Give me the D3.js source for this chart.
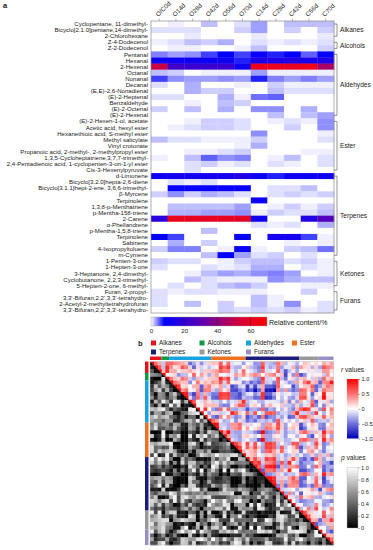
<!DOCTYPE html>
<html>
<head>
<meta charset="utf-8">
<script src="https://cdn.jsdelivr.net/npm/d3@7"></script>
<style>
  body { margin: 0; background: #fff; }
  svg text { font-family: "Liberation Sans", Arial, sans-serif; fill: #222; }
</style>
</head>
<body>
<div id="chart"></div>
<script>
const rowLabels = [
  "Cyclopentane, 11-dimethyl-", "Bicyclo[2.1.0]pentane,14-dimethyl-", "2-Chlorohexane",
  "Z-4-Dodecenol", "Z-2-Dodecenol",
  "Pentanal", "Hexanal", "2-Hexenal", "Octanal", "Nonanal", "Decanal", "(E,E)-2,6-Nonadienal",
  "(E)-2-Heptenal", "Benzaldehyde", "(E)-2-Octenal", "(E)-2-Hexenal",
  "(E)-2-Hexen-1-ol, acetate", "Acetic acid, hexyl ester", "Hexanethioic acid, S-methyl ester",
  "Methyl salicylate", "Vinyl crotonate", "Propanoic acid, 2-methyl-, 2-methylpropyl ester",
  "1,3,5-Cycloheptatriene,3,7,7-trimethyl-", "2,4-Pentadienoic acid, 1-cyclopenten-3-on-1-yl ester",
  "Cis-3-Hexenylpyruvate",
  "d-Limonene", "Bicyclo[3.2.0]hepta-2,6-diene", "Bicyclo[3.1.1]hept-2-ene, 3,6,6-trimethyl-",
  "β-Myrcene", "Terpinolene", "1,3,8-p-Menthatriene", "p-Mentha-158-triene", "2-Carene",
  "α-Phellandrene", "p-Mentha-1,5,8-triene", "Terpinolene", "Sabinene", "4-Isopropyltoluene", "m-Cymene",
  "1-Penten-3-one", "1-Hepten-3-one", "3-Heptanone, 2,4-dimethyl-", "Cyclobutanone, 2,2,3-trimethyl-",
  "5-Hepten-2-one, 6-methyl-",
  "Furan, 2-propyl-", "3,3'-Bifuran,2,2',3,3'-tetrahydro-", "2-Acetyl-2-methyltetrahydrofuran",
  "3,3'-Bifuran,2,2',3,3'-tetrahydro-"
];
const colLabels = ["O/C0d", "O14d", "O28d", "O42d", "O56d", "O70d", "C14d", "C28d", "C42d", "C56d", "C70d"];
const groupNames = ["Alkanes", "Alcohols", "Aldehydes", "Ester", "Terpenes", "Ketones", "Furans"];
const groupSizes = [3, 2, 11, 9, 14, 5, 4];
const groupColors = ["#e8141c", "#0d9a44", "#17a3e0", "#f07022", "#1c1c7c", "#999999", "#9a8ec6"];

// relative content (%) per compound, one row per compound, columns follow colLabels
const content = [
  [0, 0.5, 0, 2, 0, 1, 3, 0, 2, 2, 2],
  [1, 1, 1, 0, 0, 1.5, 3, 0, 1.5, 0, 1.5],
  [0, 0, 0.7, 0, 0, 0, 0.7, 0, 0, 0, 0.7],
  [0.5, 1, 2, 1.5, 2.5, 0, 1, 0.5, 1, 0.5, 1],
  [0, 0.5, 0.5, 0, 0, 0.5, 2, 0, 0, 0, 1.5],
  [4, 3, 3.5, 6, 8, 6, 10, 7, 8, 5, 8],
  [11, 12, 12, 12, 12, 7, 15, 15, 16, 14, 15],
  [52, 24, 22, 22, 22, 12, 62, 62, 60, 63, 45],
  [2, 1.5, 0, 0.5, 0.5, 0.5, 3, 0.5, 0.5, 0.5, 0.5],
  [6, 3.5, 3, 3, 3.5, 3, 7, 4, 3, 4, 3],
  [1, 0, 2.5, 0, 0, 0.5, 0, 1.5, 0.5, 0.5, 0.5],
  [0, 0, 2.5, 1.5, 1.5, 0, 0, 2, 1, 1, 1],
  [1, 1, 0, 0, 2.5, 0.5, 4.5, 5, 0, 0, 0],
  [0, 0, 0.5, 0, 2, 1.5, 0, 0, 0, 0, 0],
  [1.5, 0, 2, 0, 2.5, 0, 3.5, 3.5, 0, 2.5, 0],
  [0, 0, 0, 0, 0, 0, 0, 2, 0, 2, 3],
  [0, 0, 0.5, 1.5, 1.5, 1, 0, 0.5, 1, 0.5, 3.5],
  [0, 0.5, 1, 1.5, 1.5, 1, 0, 0, 1.5, 0, 3.5],
  [0, 0, 0, 0, 0, 0, 3.5, 0, 0, 0, 0.5],
  [2, 1, 1, 0.5, 0.5, 0.5, 1.5, 0, 0, 0, 1],
  [0, 0, 0, 0, 0, 0.5, 2.5, 0, 0, 0, 0],
  [0, 0, 0.5, 0.5, 1, 1.5, 0, 0, 0, 0.5, 0.5],
  [0.5, 0, 2, 5, 3.5, 4, 0, 0.5, 2, 0, 1],
  [0, 0, 1, 1.5, 0.5, 1, 0, 1, 0.5, 0, 1],
  [0, 0, 1, 0, 0, 0, 0, 0, 0, 0, 0],
  [12, 13, 13, 13, 13, 16, 11, 7, 12, 11, 12],
  [0, 1, 0.5, 1, 0, 0, 0, 0, 0, 0, 0],
  [0, 9, 9, 9, 10, 10, 0, 1, 1, 2, 0],
  [1.5, 3.5, 1.5, 2.5, 2, 1, 0, 1, 1.5, 1, 1.5],
  [0, 0, 0, 0, 0, 0, 11, 0, 0, 0, 0],
  [0, 2, 2, 2, 2, 3, 0, 0.5, 1.5, 0.5, 1.5],
  [0, 2.5, 2.5, 3, 3, 3.5, 0.5, 1.5, 1, 1, 2],
  [18, 62, 61, 60, 60, 59, 12, 0, 0, 16, 28],
  [0, 0, 0, 0, 0, 0, 1, 0.5, 1, 0, 2.5],
  [0, 0, 0, 2, 0, 0, 0, 0, 0, 0, 0],
  [9, 6, 0, 0, 0, 10, 0, 13, 13, 6, 0.5],
  [0, 2.5, 0, 1.5, 0, 0, 0, 0, 0.5, 0, 0.5],
  [1.5, 4, 4, 0, 0.5, 10, 0.5, 0, 1.5, 2, 4.5],
  [0, 0, 0, 2, 8, 3, 1, 1.5, 0, 1, 0],
  [1.5, 1, 1, 0, 0.5, 1.5, 2, 2, 1, 1.5, 0.5],
  [1, 0, 0, 1, 0.5, 1, 2.5, 2.5, 0, 1, 0.5],
  [0, 0, 0.5, 2, 3, 2.5, 3.5, 4, 3, 0, 0.5],
  [0, 0, 2, 1, 0.5, 0.5, 0.5, 3.5, 2.5, 2, 2],
  [0, 1, 0, 1, 2, 2.5, 1.5, 0, 0, 0.5, 0.5],
  [1, 0.5, 1, 1, 0.5, 0.5, 0.5, 0, 0, 1.5, 0],
  [1, 0, 0, 0, 0, 0, 2, 0.5, 0, 0, 0],
  [1, 0, 2, 0, 1.5, 0, 2, 0.5, 3.5, 0, 1],
  [0, 0, 0, 0, 1.5, 1, 1.5, 1, 1.5, 0.5, 1]
];

const contentTicks = [0, 20, 40, 60];
const rTicks = [1, 0.5, 0, -0.5, -1];
const pTicks = [0, 0.2, 0.4, 0.6, 0.8, 1];

const width = 373, height = 550;
const svg = d3.select("#chart").append("svg")
  .attr("width", width)
  .attr("height", height);
const defs = svg.append("defs");

// ---------- panel a ----------
const x = d3.scaleBand().domain(colLabels).range([151, 334]);
const y = d3.scaleBand().domain(d3.range(rowLabels.length)).range([21, 313]);
const heatColor = d3.scaleLinear()
  .domain([0, 8, 30, 55, 70])
  .range(["#ffffff", "#0000ff", "#5a00b4", "#dc0032", "#ff0000"])
  .clamp(true);

svg.append("text")
  .attr("x", 3).attr("y", 8)
  .style("font-size", "7.5px").style("font-weight", "bold")
  .text("a");

const cells = [];
content.forEach((row, i) => row.forEach((v, j) => cells.push({ i, j, v })));

svg.append("g").selectAll("rect")
  .data(cells)
  .join("rect")
  .attr("x", d => x(colLabels[d.j]))
  .attr("y", d => y(d.i))
  .attr("width", x.bandwidth() + 0.3)
  .attr("height", y.bandwidth() + 0.3)
  .attr("fill", d => heatColor(d.v));

svg.append("rect")
  .attr("x", 151).attr("y", 21)
  .attr("width", 183).attr("height", 292)
  .attr("fill", "none")
  .attr("stroke", "#8c8c8c")
  .attr("stroke-width", 0.7);

// column labels and top ticks
svg.append("g").selectAll("line")
  .data(colLabels)
  .join("line")
  .attr("x1", d => x(d) + x.bandwidth() / 2)
  .attr("x2", d => x(d) + x.bandwidth() / 2)
  .attr("y1", 21).attr("y2", 18.5)
  .attr("stroke", "#888").attr("stroke-width", 0.6);

svg.append("g").selectAll("text")
  .data(colLabels)
  .join("text")
  .attr("transform", d => `translate(${x(d) + x.bandwidth() / 2 - 1},17) rotate(-45)`)
  .style("font-size", "6.3px")
  .text(d => d);

svg.append("g").selectAll("text")
  .data(rowLabels)
  .join("text")
  .attr("x", 148)
  .attr("y", (d, i) => y(i) + y.bandwidth() / 2 + 2.1)
  .attr("text-anchor", "end")
  .style("font-size", "6.1px")
  .text(d => d);

// group brackets
let start = 0;
const groups = groupNames.map((name, g) => {
  const o = { name, start, end: start + groupSizes[g] - 1, color: groupColors[g] };
  start += groupSizes[g];
  return o;
});

groups.forEach(g => {
  const y0 = y(g.start) + 3;
  const y1 = y(g.end) + y.bandwidth() - 3;
  svg.append("path")
    .attr("d", `M334,${y0}H337V${y1}H334`)
    .attr("fill", "none")
    .attr("stroke", "#666")
    .attr("stroke-width", 0.7);
  svg.append("text")
    .attr("x", 340)
    .attr("y", (y0 + y1) / 2 + 2.3)
    .style("font-size", "6.6px")
    .text(g.name);
});

// colour bar a
const cb = d3.scaleLinear().domain([0, 70]).range([151, 267]);
const gradA = defs.append("linearGradient").attr("id", "gradA");
heatColor.domain().forEach(v => {
  gradA.append("stop")
    .attr("offset", (v / 70 * 100) + "%")
    .attr("stop-color", heatColor(v));
});
svg.append("rect")
  .attr("x", 151).attr("y", 317)
  .attr("width", 116).attr("height", 9)
  .attr("fill", "url(#gradA)")
  .attr("stroke", "#999").attr("stroke-width", 0.4);

svg.append("g").selectAll("line")
  .data(contentTicks.slice(1))
  .join("line")
  .attr("x1", d => cb(d)).attr("x2", d => cb(d))
  .attr("y1", 317).attr("y2", 326)
  .attr("stroke", "#222").attr("stroke-width", 0.6).attr("opacity", 0.7);

const axA = svg.append("g")
  .attr("transform", "translate(0,327)")
  .call(d3.axisBottom(cb).tickValues(contentTicks).tickSize(0).tickPadding(2));
axA.select(".domain").remove();
axA.selectAll("text").style("font-size", "6.2px").style("font-family", "Liberation Sans, Arial, sans-serif");

svg.append("text")
  .attr("x", 269).attr("y", 324.5)
  .style("font-size", "7px")
  .text("Relative content/%");

// ---------- panel b ----------
svg.append("text")
  .attr("x", 138).attr("y", 346)
  .style("font-size", "7.5px").style("font-weight", "bold")
  .text("b");

const legendX = [151, 199.5, 246, 292];
groups.forEach((g, k) => {
  const lx = legendX[k % 4];
  const ly = k < 4 ? 340.5 : 349.5;
  svg.append("rect")
    .attr("x", lx).attr("y", ly)
    .attr("width", 5).attr("height", 5)
    .attr("fill", g.color);
  svg.append("text")
    .attr("x", lx + 8).attr("y", ly + 4.7)
    .style("font-size", "6.4px")
    .text(g.name);
});

// correlations between compounds across samples
const n = colLabels.length;
function pearson(a, b) {
  const ma = d3.mean(a), mb = d3.mean(b);
  let sab = 0, saa = 0, sbb = 0;
  for (let k = 0; k < a.length; k++) {
    sab += (a[k] - ma) * (b[k] - mb);
    saa += (a[k] - ma) ** 2;
    sbb += (b[k] - mb) ** 2;
  }
  if (saa === 0 || sbb === 0) return 0;
  return sab / Math.sqrt(saa * sbb);
}
// two-sided p for Student t with odd degrees of freedom
function pValue(r, df) {
  if (Math.abs(r) >= 1) return 0;
  const t = Math.abs(r) * Math.sqrt(df / (1 - r * r));
  const th = Math.atan(t / Math.sqrt(df));
  const c = Math.cos(th), s = Math.sin(th);
  let sum = 0, term = c;
  if (df > 1) {
    sum = c;
    for (let k = 3; k <= df - 2; k += 2) {
      term *= (k - 1) / k * c * c;
      sum += term;
    }
  }
  return Math.max(0, 1 - 2 / Math.PI * (th + s * sum));
}

const N = rowLabels.length;
const mx = d3.scaleBand().domain(d3.range(N)).range([150, 333.5]);
const my = d3.scaleBand().domain(d3.range(N)).range([361.5, 545]);
const rColor = d3.scaleLinear().domain([-1, -0.5, 0, 0.5, 1])
  .range(["#0000b4", "#7070dc", "#ffffff", "#ff7070", "#ff0000"]);
const pColor = d3.scaleLinear().domain([0, 1]).range(["#000000", "#ffffff"]);

const pairs = [];
for (let i = 0; i < N; i++) {
  for (let j = 0; j < N; j++) {
    if (i === j) continue;
    const r = pearson(content[i], content[j]);
    pairs.push({ i, j, fill: j > i ? rColor(r) : pColor(pValue(r, n - 2)) });
  }
}

svg.append("g").selectAll("rect")
  .data(pairs)
  .join("rect")
  .attr("x", d => mx(d.j))
  .attr("y", d => my(d.i))
  .attr("width", mx.bandwidth() + 0.3)
  .attr("height", my.bandwidth() + 0.3)
  .attr("fill", d => d.fill);

const diag = svg.append("g");
d3.range(N).forEach(i => {
  const x0 = mx(i), x1 = mx(i) + mx.bandwidth() + 0.3;
  const y0 = my(i), y1 = my(i) + my.bandwidth() + 0.3;
  diag.append("path").attr("d", `M${x0},${y0}L${x1},${y0}L${x1},${y1}Z`).attr("fill", rColor(1));
  diag.append("path").attr("d", `M${x0},${y0}L${x0},${y1}L${x1},${y1}Z`).attr("fill", "#000");
});

svg.append("rect")
  .attr("x", 150).attr("y", 361.5)
  .attr("width", 183.5).attr("height", 183.5)
  .attr("fill", "none").attr("stroke", "#bbb").attr("stroke-width", 0.5);

// group bars
groups.forEach(g => {
  svg.append("rect")
    .attr("x", mx(g.start)).attr("y", 356.5)
    .attr("width", mx(g.end) + mx.bandwidth() - mx(g.start)).attr("height", 3.5)
    .attr("fill", g.color);
  svg.append("rect")
    .attr("x", 145).attr("y", my(g.start))
    .attr("width", 3.5).attr("height", my(g.end) + my.bandwidth() - my(g.start))
    .attr("fill", g.color);
});

// r legend
const rScale = d3.scaleLinear().domain([-1, 1]).range([438.5, 379]);
const gradR = defs.append("linearGradient").attr("id", "gradR")
  .attr("x1", 0).attr("y1", 1).attr("x2", 0).attr("y2", 0);
rColor.domain().forEach(v => {
  gradR.append("stop").attr("offset", ((v + 1) / 2 * 100) + "%").attr("stop-color", rColor(v));
});
svg.append("rect")
  .attr("x", 347).attr("y", 379)
  .attr("width", 11.5).attr("height", 59.5)
  .attr("fill", "url(#gradR)");
const axR = svg.append("g")
  .attr("transform", "translate(358.5,0)")
  .call(d3.axisRight(rScale).tickValues(rTicks).tickSize(1.5).tickPadding(1.5)
    .tickFormat(d => d === 0 ? "0" : d3.format(".1f")(d)));
axR.select(".domain").remove();
axR.selectAll("line").attr("stroke", "#444").attr("stroke-width", 0.5);
axR.selectAll("text").style("font-size", "5.6px").style("font-family", "Liberation Sans, Arial, sans-serif");

const rTitle = svg.append("text").attr("x", 341).attr("y", 372).style("font-size", "6.6px");
rTitle.append("tspan").style("font-style", "italic").text("r");
rTitle.append("tspan").text(" values");

// p legend
const pScale = d3.scaleLinear().domain([0, 1]).range([528, 467.5]);
const gradP = defs.append("linearGradient").attr("id", "gradP")
  .attr("x1", 0).attr("y1", 1).attr("x2", 0).attr("y2", 0);
gradP.append("stop").attr("offset", "0%").attr("stop-color", pColor(0));
gradP.append("stop").attr("offset", "100%").attr("stop-color", pColor(1));
svg.append("rect")
  .attr("x", 347).attr("y", 467.5)
  .attr("width", 11).attr("height", 60.5)
  .attr("fill", "url(#gradP)")
  .attr("stroke", "#bbb").attr("stroke-width", 0.4);
const axP = svg.append("g")
  .attr("transform", "translate(358,0)")
  .call(d3.axisRight(pScale).tickValues(pTicks).tickSize(1.5).tickPadding(1.5)
    .tickFormat(d => d === 0 ? "0" : d3.format(".1f")(d)));
axP.select(".domain").remove();
axP.selectAll("line").attr("stroke", "#444").attr("stroke-width", 0.5);
axP.selectAll("text").style("font-size", "5.6px").style("font-family", "Liberation Sans, Arial, sans-serif");

const pTitle = svg.append("text").attr("x", 341).attr("y", 460).style("font-size", "6.6px");
pTitle.append("tspan").style("font-style", "italic").text("p");
pTitle.append("tspan").text(" values");
</script>
</body>
</html>
